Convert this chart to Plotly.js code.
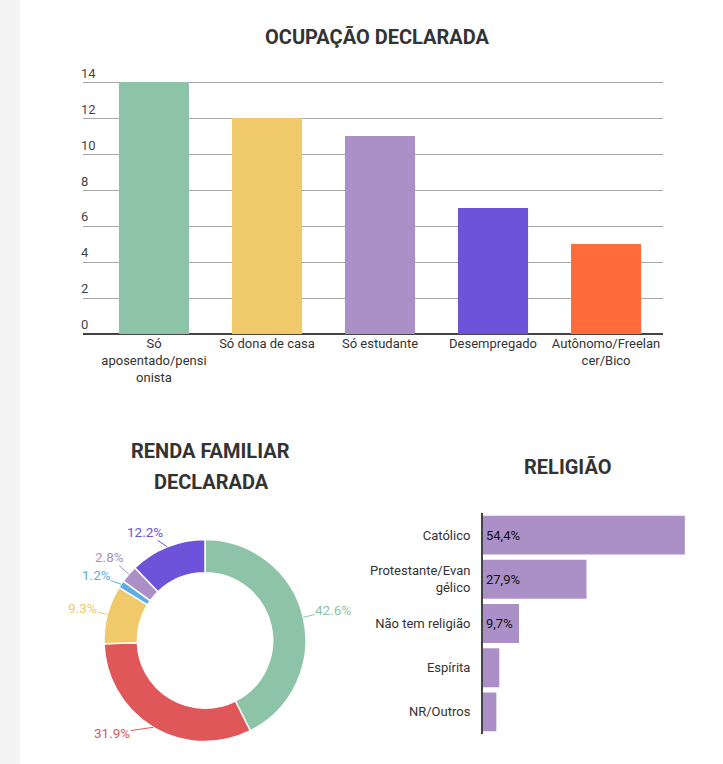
<!DOCTYPE html>
<html>
<head>
<meta charset="utf-8">
<script src="https://cdn.plot.ly/plotly-3.0.1.min.js"></script>
<style>
  html, body { margin: 0; padding: 0; background: #f4f4f4; width: 723px; height: 764px; overflow: hidden; }
  #chart { position: absolute; left: 20px; top: 0; width: 703px; height: 764px; background: #fff; }
</style>
</head>
<body>
<div id="chart"></div>
<script>
// ---- Data ----
const ocupacaoCategorias = ["Só<br>aposentado/pensi<br>onista", "Só dona de casa", "Só estudante", "Desempregado", "Autônomo/Freelan<br>cer/Bico"];
const ocupacaoValores = [14, 12, 11, 7, 5];
const ocupacaoCores = ["#8dc3a7", "#f0c96a", "#ab90c8", "#6c53d9", "#ff6b3a"];
const ocupacaoTicks = [0, 2, 4, 6, 8, 10, 12, 14];

const rendaFaixas = ["Faixa 1", "Faixa 2", "Faixa 3", "Faixa 4", "Faixa 5", "Faixa 6"];
const rendaValores = [42.6, 31.9, 9.3, 1.2, 2.8, 12.2];
const rendaCores = ["#8dc3a7", "#e05759", "#f0c96a", "#5aaee3", "#ab90c8", "#6c53d9"];
// label offsets (px) from slice edge – style only
const rendaRotuloDx = [30, -41, -25, -25, -19, -22];
const rendaRotuloDy = [-7, 6, -6, -9, -17, -15];

const religiaoCategorias = ["Católico", "Protestante/Evan<br>gélico", "Não tem religião", "Espírita", "NR/Outros"];
const religiaoValores = [54.4, 27.9, 9.7, 4.4, 3.6];
const religiaoCor = "#ab90c8";

// ---- Helpers ----
const W = 703, H = 764;
const fx = px => (px - 20) / W;      // page x -> paper fraction
const fy = py => 1 - py / H;          // page y -> paper fraction
const FONT = "Roboto, 'Open Sans', sans-serif";

// pie geometry (page px)
const pieLeft = 104, pieRight = 306, pieTop = 539.5, pieBottom = 741.5;
const pieCx = (pieLeft + pieRight) / 2, pieCy = (pieTop + pieBottom) / 2;
const pieR = Math.min(pieRight - pieLeft, pieBottom - pieTop) / 2;

const total = rendaValores.reduce((a, b) => a + b, 0);
let acc = 0;
const pieAnnotations = rendaValores.map((v, i) => {
  const mid = (acc + v / 2) / total * 2 * Math.PI;
  acc += v;
  const px = pieCx + pieR * Math.sin(mid);
  const py = pieCy - pieR * Math.cos(mid);
  return {
    text: (v / total * 100).toFixed(1) + "%",
    xref: "paper", yref: "paper",
    x: fx(px), y: fy(py),
    ax: rendaRotuloDx[i], ay: rendaRotuloDy[i],
    axref: "pixel", ayref: "pixel",
    showarrow: true, arrowhead: 0, arrowwidth: 1, arrowcolor: rendaCores[i],
    standoff: 0, startstandoff: 0,
    font: { family: FONT, size: 13.5, color: rendaCores[i] },
    borderpad: 0
  };
});

const traces = [
  {
    type: "bar",
    x: ocupacaoCategorias,
    y: ocupacaoValores,
    marker: { color: ocupacaoCores },
    width: 0.62,
    xaxis: "x", yaxis: "y",
    showlegend: false
  },
  {
    type: "pie",
    labels: rendaFaixas,
    values: rendaValores,
    sort: false,
    direction: "clockwise",
    rotation: 0,
    hole: 0.67,
    marker: { colors: rendaCores, line: { color: "#ffffff", width: 1.5 } },
    textinfo: "none",
    domain: { x: [fx(pieLeft), fx(pieRight)], y: [fy(pieBottom), fy(pieTop)] },
    showlegend: false
  },
  {
    type: "bar",
    orientation: "h",
    y: religiaoCategorias,
    x: religiaoValores,
    text: religiaoValores.map(v => v.toFixed(1).replace(".", ",") + "%"),
    textposition: "inside",
    insidetextanchor: "start",
    textfont: { family: FONT, size: 13, color: "#111" },
    marker: { color: religiaoCor },
    width: 0.88,
    xaxis: "x2", yaxis: "y2",
    showlegend: false
  }
];

const layout = {
  width: W, height: H,
  margin: { l: 0, r: 0, t: 0, b: 0 },
  paper_bgcolor: "#ffffff",
  plot_bgcolor: "#ffffff",
  font: { family: FONT, size: 13, color: "#333" },
  showlegend: false,
  uniformtext: { mode: "hide", minsize: 12 },
  title: {
    text: "<b>OCUPAÇÃO DECLARADA</b>",
    x: fx(377), xanchor: "center", xref: "paper",
    y: fy(37), yanchor: "middle", yref: "paper",
    font: { family: FONT, size: 20, color: "#333" }
  },
  xaxis: {
    domain: [fx(83), fx(663)],
    anchor: "y",
    type: "category",
    range: [-0.628, 4.504],
    showgrid: false,
    ticks: "",
    tickfont: { family: FONT, size: 13, color: "#333" },
    fixedrange: true
  },
  yaxis: {
    domain: [fy(334), fy(81)],
    anchor: "x",
    range: [0, 14.06],
    tickvals: ocupacaoTicks,
    ticktext: ocupacaoTicks.map(String),
    ticklabelposition: "inside top",
    ticklabeloverflow: "allow",
    ticklabelstandoff: -5,
    tickfont: { family: FONT, size: 13, color: "#444" },
    showgrid: true,
    gridcolor: "#a8a8a8",
    gridwidth: 1,
    zeroline: true,
    zerolinecolor: "#444",
    zerolinewidth: 2,
    showline: false,
    ticks: "",
    fixedrange: true
  },
  xaxis2: {
    domain: [fx(483), fx(483 + 60 * 3.71)],
    anchor: "y2",
    range: [0, 60],
    showgrid: false,
    zeroline: false,
    showticklabels: false,
    showline: false,
    ticks: "",
    fixedrange: true
  },
  yaxis2: {
    domain: [fy(734), fy(513)],
    anchor: "x2",
    type: "category",
    autorange: "reversed",
    showgrid: false,
    zeroline: false,
    showline: true,
    linecolor: "#444",
    linewidth: 2,
    ticks: "",
    ticklabelstandoff: 8,
    tickfont: { family: FONT, size: 13, color: "#333" },
    fixedrange: true
  },
  annotations: [
    { text: "<b>RENDA FAMILIAR</b>", xref: "paper", yref: "paper", x: fx(210), y: fy(451),
      xanchor: "center", yanchor: "middle", showarrow: false,
      font: { family: FONT, size: 20, color: "#333" } },
    { text: "<b>DECLARADA</b>", xref: "paper", yref: "paper", x: fx(211), y: fy(482),
      xanchor: "center", yanchor: "middle", showarrow: false,
      font: { family: FONT, size: 20, color: "#333" } },
    { text: "<b>RELIGIÃO</b>", xref: "paper", yref: "paper", x: fx(567), y: fy(467),
      xanchor: "center", yanchor: "middle", showarrow: false,
      font: { family: FONT, size: 20, color: "#333" } }
  ].concat(pieAnnotations)
};

Plotly.newPlot("chart", traces, layout, { displayModeBar: false, staticPlot: true });
</script>
</body>
</html>
